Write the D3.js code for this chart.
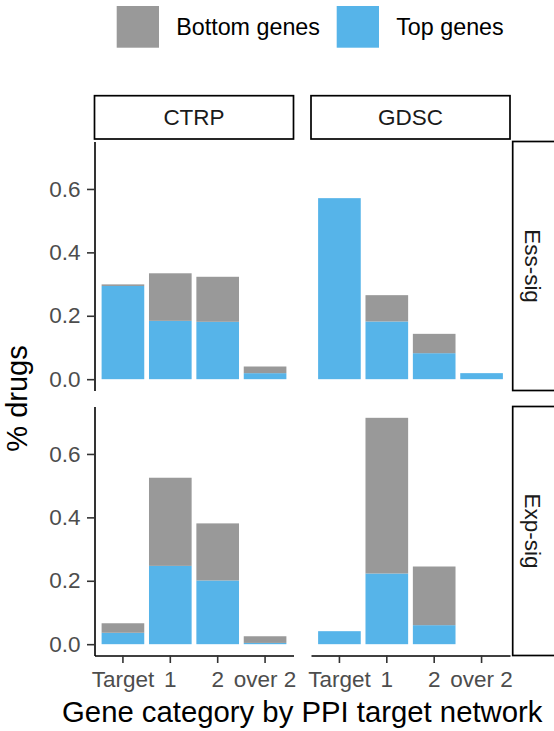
<!DOCTYPE html>
<html>
<head>
<meta charset="utf-8">
<script src="https://cdn.jsdelivr.net/npm/d3@7"></script>
<style>
  html, body { margin: 0; padding: 0; background: #fff; }
  svg { display: block; font-family: "Liberation Sans", Arial, Helvetica, sans-serif; }
</style>
</head>
<body>
<svg id="chart" width="554" height="731"></svg>
<script>
// Share of drugs per gene category, faceted by dataset (columns) and signature (rows)
const categories = ["Target", "1", "2", "over 2"];
const datasets = ["CTRP", "GDSC"];
const signatures = ["Ess-sig", "Exp-sig"];
const fillKeys = ["Bottom genes", "Top genes"];

// Top genes (lower stack segment)
const topCTRPEss = [0.294, 0.184, 0.181, 0.019];
const topGDSCEss = [0.571, 0.182, 0.082, 0.019];
const topCTRPExp = [0.036, 0.247, 0.201, 0.004];
const topGDSCExp = [0.041, 0.223, 0.060, 0.000];

// Bottom genes (upper stack segment)
const bottomCTRPEss = [0.005, 0.150, 0.142, 0.021];
const bottomGDSCEss = [0.000, 0.083, 0.061, 0.000];
const bottomCTRPExp = [0.030, 0.278, 0.180, 0.021];
const bottomGDSCExp = [0.000, 0.491, 0.185, 0.000];

const colours = { "Bottom genes": "#999999", "Top genes": "#56B4E9" };

const panelData = {
  "CTRP|Ess-sig": [topCTRPEss, bottomCTRPEss],
  "GDSC|Ess-sig": [topGDSCEss, bottomGDSCEss],
  "CTRP|Exp-sig": [topCTRPExp, bottomCTRPExp],
  "GDSC|Exp-sig": [topGDSCExp, bottomGDSCExp]
};

function rowsFor(key) {
  const [top, bottom] = panelData[key];
  return categories.map((c, i) => ({ category: c, "Top genes": top[i], "Bottom genes": bottom[i] }));
}

// layout
const colX = [94.5, 311];
const panelW = 199;
const rowY = [141.5, 406.5];
const panelH = 249;
const stripTop = { y: 95.7, h: 43.3 };
const stripRight = { x: 512.7, w: 43 };

const svg = d3.select("#chart");

// shared y scale (fixed scales across facets, 5% expansion)
const maxTotal = d3.max(Object.keys(panelData), k => d3.max(rowsFor(k), d => d["Top genes"] + d["Bottom genes"]));
const pad = maxTotal * 0.05;

const x = d3.scaleBand().domain(categories).range([0, panelW]).paddingInner(0.1).paddingOuter(0.15);

const stack = d3.stack().keys(["Top genes", "Bottom genes"]);

signatures.forEach((sig, r) => {
  const y = d3.scaleLinear().domain([-pad, maxTotal + pad]).range([rowY[r] + panelH, rowY[r]]);

  datasets.forEach((ds, c) => {
    const g = svg.append("g").attr("transform", `translate(${colX[c]},0)`);
    const series = stack(rowsFor(ds + "|" + sig));

    g.selectAll("g.series").data(series).join("g")
      .attr("class", "series")
      .attr("fill", s => colours[s.key])
      .selectAll("rect").data(s => s).join("rect")
      .attr("x", d => x(d.data.category))
      .attr("width", x.bandwidth())
      .attr("y", d => y(d[1]))
      .attr("height", d => Math.max(0, y(d[0]) - y(d[1])));

    // left axis only on first column
    if (c === 0) {
      const ya = g.append("g").call(
        d3.axisLeft(y).tickValues([0, 0.2, 0.4, 0.6]).tickFormat(d3.format(".1f"))
          .tickSize(7.5).tickSizeOuter(0).tickPadding(6.5)
      );
      ya.select(".domain").attr("stroke", "#000").attr("stroke-width", 1.6);
      ya.selectAll(".tick line").attr("stroke", "#333").attr("stroke-width", 1.6);
      ya.selectAll(".tick text").attr("fill", "#4d4d4d").attr("font-size", 22.5).attr("font-family", null);
    }

    // bottom axis only on last row
    if (r === signatures.length - 1) {
      const xa = g.append("g").attr("transform", `translate(0,${rowY[r] + panelH})`).call(
        d3.axisBottom(x).tickSize(7.5).tickSizeOuter(0).tickPadding(7.7)
      );
      xa.select(".domain").attr("stroke", "#000").attr("stroke-width", 1.6);
      xa.selectAll(".tick line").attr("stroke", "#333").attr("stroke-width", 1.6);
      xa.selectAll(".tick text").attr("fill", "#4d4d4d").attr("font-size", 22.5).attr("font-family", null);
    }

    // column strips
    if (r === 0) {
      svg.append("rect")
        .attr("x", colX[c]).attr("y", stripTop.y)
        .attr("width", panelW).attr("height", stripTop.h)
        .attr("fill", "#fff").attr("stroke", "#000").attr("stroke-width", 1.7);
      svg.append("text")
        .attr("x", colX[c] + panelW / 2).attr("y", stripTop.y + stripTop.h / 2)
        .attr("text-anchor", "middle").attr("dominant-baseline", "central")
        .attr("font-size", 22.5).attr("fill", "#1a1a1a")
        .text(ds);
    }
  });

  // row strips
  svg.append("rect")
    .attr("x", stripRight.x).attr("y", rowY[r])
    .attr("width", stripRight.w).attr("height", panelH)
    .attr("fill", "#fff").attr("stroke", "#000").attr("stroke-width", 1.7);
  svg.append("text")
    .attr("transform", `translate(${stripRight.x + 20},${rowY[r] + panelH / 2}) rotate(90)`)
    .attr("text-anchor", "middle").attr("dominant-baseline", "central")
    .attr("font-size", 22.5).attr("fill", "#1a1a1a")
    .text(sig);
});

// axis titles
svg.append("text")
  .attr("x", (colX[0] + colX[1] + panelW) / 2).attr("y", 722)
  .attr("text-anchor", "middle").attr("font-size", 29.3).attr("fill", "#000")
  .text("Gene category by PPI target network");

svg.append("text")
  .attr("transform", `translate(27,${rowY[0] + (rowY[1] + panelH - rowY[0]) / 2}) rotate(-90)`)
  .attr("text-anchor", "middle").attr("font-size", 29).attr("fill", "#000")
  .text("% drugs");

// legend
const legendX = [116.7, 336.7];
const legend = svg.append("g");
fillKeys.forEach((k, i) => {
  legend.append("rect")
    .attr("x", legendX[i]).attr("y", 6)
    .attr("width", 42.3).attr("height", 41.7)
    .attr("fill", colours[k]);
  legend.append("text")
    .attr("x", legendX[i] + 59.5).attr("y", 35)
    .attr("font-size", 23.3).attr("fill", "#000")
    .text(k);
});
</script>
</body>
</html>
